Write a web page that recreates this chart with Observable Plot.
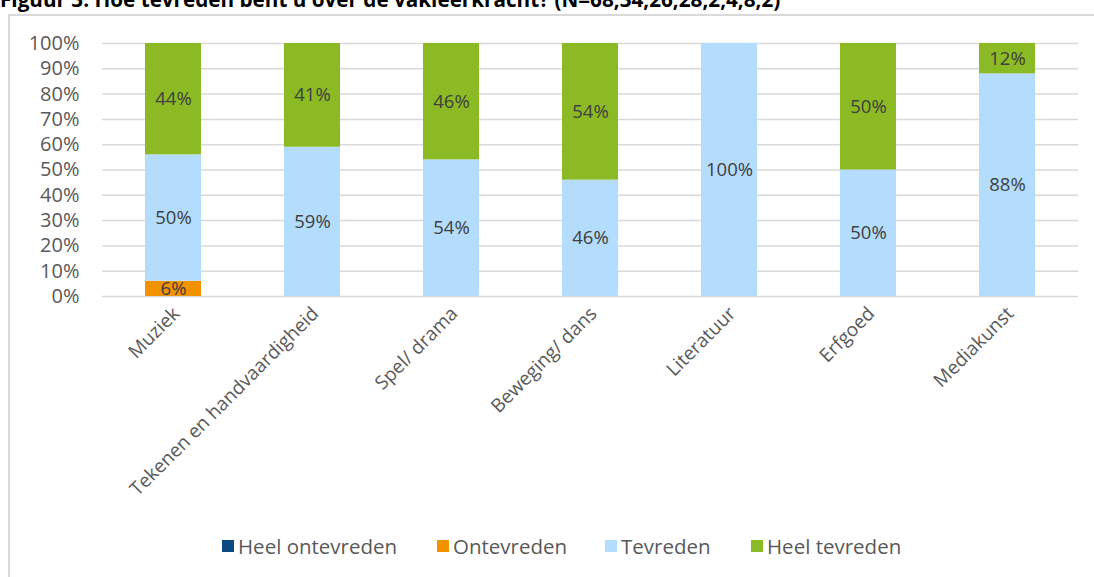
<!DOCTYPE html>
<html>
<head>
<meta charset="utf-8">
<script src="https://cdn.jsdelivr.net/npm/d3@7"></script>
<script src="https://cdn.jsdelivr.net/npm/@observablehq/plot@0.6"></script>
<style>
  html, body { margin: 0; padding: 0; background: #fff; }
  body { width: 1094px; height: 577px; position: relative; overflow: hidden; font-family: "Open Sans", Lato, sans-serif; }
  #title { position: absolute; left: 0; top: -15px; font-weight: bold; font-size: 20.7px; line-height: 28px; color: #000; white-space: nowrap; }
  #frame { position: absolute; left: 8px; top: 14px; width: 1200px; height: 700px; border-left: 2px solid #d9d9d9; border-top: 2px solid #d9d9d9; }
  #chart { position: absolute; left: 0; top: 0; }
  #legend { position: absolute; left: 0; top: 0; width: 1094px; height: 577px; pointer-events: none; }
  .item { position: absolute; top: 532px; display: flex; align-items: center; font-size: 20.5px; color: #595959; white-space: nowrap; }
  .sw { width: 12px; height: 12px; margin-right: 4px; }
</style>
</head>
<body>
<div id="title"></div>
<div id="frame"></div>
<div id="chart"></div>
<div id="legend"></div>
<script>
const titleText = "Figuur 3: Hoe tevreden bent u over de vakleerkracht? (N=68;34;26;28;2;4;8;2)";
const categories = ["Muziek", "Tekenen en handvaardigheid", "Spel/ drama", "Beweging/ dans", "Literatuur", "Erfgoed", "Mediakunst"];
const seriesNames = ["Heel ontevreden", "Ontevreden", "Tevreden", "Heel tevreden"];
const heelOntevreden = [0, 0, 0, 0, 0, 0, 0];
const ontevreden = [6, 0, 0, 0, 0, 0, 0];
const tevreden = [50, 59, 54, 46, 100, 50, 88];
const heelTevreden = [44, 41, 46, 54, 0, 50, 12];
const seriesColors = ["#0b4a80", "#f39200", "#b4dcfd", "#8bba24"];
const yTicks = [0, 10, 20, 30, 40, 50, 60, 70, 80, 90, 100];
const legendX = [222, 437, 605, 751];

document.getElementById("title").textContent = titleText;

const seriesValues = [heelOntevreden, ontevreden, tevreden, heelTevreden];
const rows = [];
categories.forEach((cat, i) => {
  let acc = 0;
  seriesNames.forEach((s, j) => {
    const v = seriesValues[j][i];
    rows.push({cat, series: s, value: v, y1: acc, y2: acc + v});
    acc += v;
  });
});
const shown = rows.filter(d => d.value > 0);

const chart = Plot.plot({
  width: 1094,
  height: 520,
  marginTop: 43,
  marginBottom: 224,
  marginLeft: 102,
  marginRight: 16,
  style: {fontFamily: "'Open Sans', Lato, sans-serif", color: "#595959", background: "transparent"},
  x: {domain: categories, paddingInner: 0.6, paddingOuter: 0.3, label: null},
  y: {domain: [0, 100], label: null},
  color: {domain: seriesNames, range: seriesColors},
  marks: [
    Plot.ruleY(yTicks, {stroke: "#d9d9d9", strokeWidth: 1.5}),
    Plot.barY(shown, {x: "cat", y1: "y1", y2: "y2", fill: "series"}),
    Plot.text(shown, {x: "cat", y: d => (d.y1 + d.y2) / 2, text: d => d.value + "%", fill: "#404040", fontSize: 18.5}),
    Plot.axisY({ticks: yTicks, tickFormat: d => d + "%", tickSize: 0, tickPadding: 23, fontSize: 20, label: null}),
    Plot.axisX({tickSize: 0, tickRotate: -45, tickPadding: 14, fontSize: 19, dx: 3, label: null})
  ]
});
document.getElementById("chart").appendChild(chart);

const legend = document.getElementById("legend");
seriesNames.forEach((s, j) => {
  const item = document.createElement("div");
  item.className = "item";
  item.style.left = legendX[j] + "px";
  const sw = document.createElement("span");
  sw.className = "sw";
  sw.style.background = seriesColors[j];
  const t = document.createElement("span");
  t.textContent = s;
  item.appendChild(sw);
  item.appendChild(t);
  legend.appendChild(item);
});
</script>
</body>
</html>
